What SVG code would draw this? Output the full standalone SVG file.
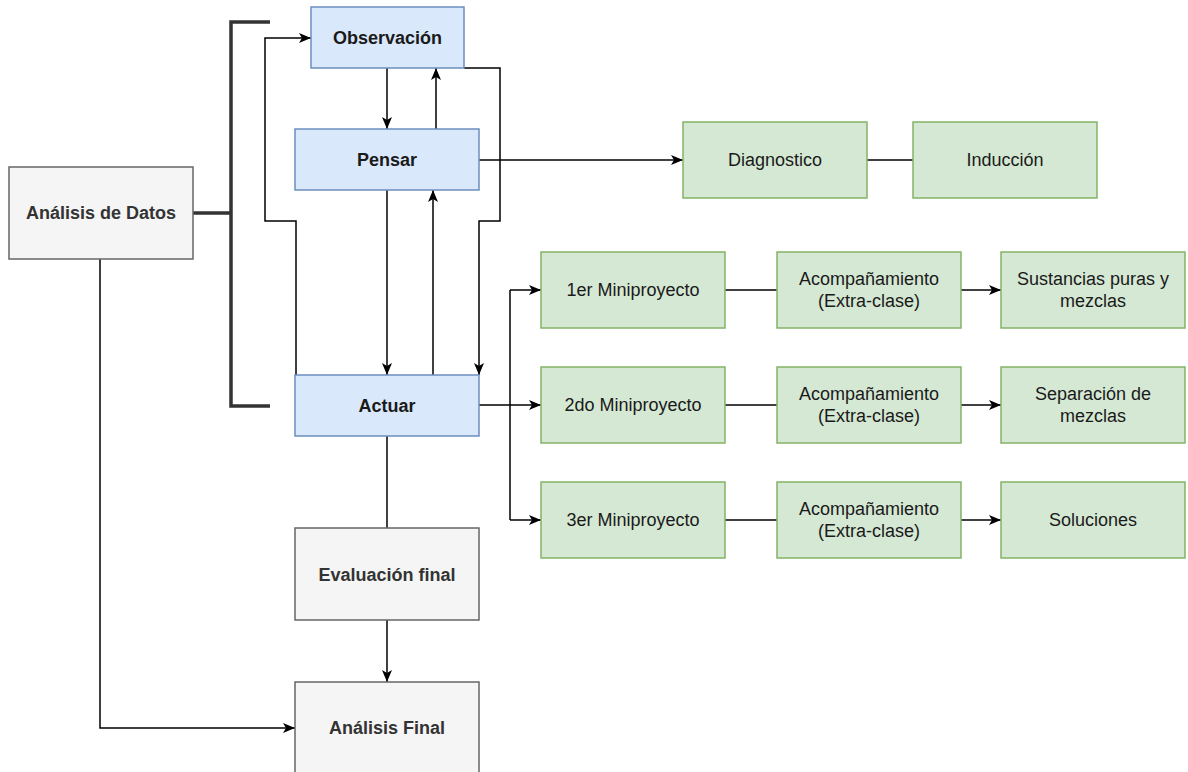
<svg xmlns="http://www.w3.org/2000/svg" width="1188" height="772" viewBox="0 0 1188 772">
<style>
.blue rect{fill:#dae8fc;stroke:#6c8ebf;stroke-width:1.5}
.green rect{fill:#d5e8d4;stroke:#82b366;stroke-width:1.5}
.grey rect{fill:#f5f5f5;stroke:#666666;stroke-width:1.5}
text{font-family:"Liberation Sans",Arial,sans-serif;font-size:18px;text-anchor:middle}
.blue text{font-weight:bold;fill:#1a1a1a}
.grey text{font-weight:bold;fill:#333333}
.green text{fill:#1a1a1a}
.c path{fill:none;stroke:#000;stroke-width:1.5}
.c path.a{marker-end:url(#arr)}
.c path.br{stroke:#333;stroke-width:3.5}
</style>
<defs>
<marker id="arr" markerUnits="userSpaceOnUse" viewBox="0 0 12 10" refX="12" refY="5" markerWidth="12" markerHeight="10" orient="auto">
<path d="M0,0 L12,5 L0,10 L3,5 Z" fill="#000"/>
</marker>
</defs>
<rect width="1188" height="772" fill="#fff"/>
<g class="c" id="connectors">
<path class="br" d="M193,213 H231"/>
<path class="br" d="M270,22 H231 V406 H270"/>
<path class="a" d="M296,375 V221 H265 V38 H311"/>
<path class="a" d="M387,68 V129"/>
<path class="a" d="M436,129 V68"/>
<path class="a" d="M464,68 H500 V221 H479 V375"/>
<path class="a" d="M387,190 V375"/>
<path class="a" d="M433,375 V190"/>
<path class="a" d="M479,160 H683"/>
<path d="M867,160 H913"/>
<path d="M479,405 H510 M510,290 V520"/>
<path class="a" d="M510,290 H541"/>
<path class="a" d="M510,405 H541"/>
<path class="a" d="M510,520 H541"/>
<path d="M725,290 H777"/>
<path d="M725,405 H777"/>
<path d="M725,520 H777"/>
<path class="a" d="M961,290 H1001"/>
<path class="a" d="M961,405 H1001"/>
<path class="a" d="M961,520 H1001"/>
<path d="M387,436 V528"/>
<path class="a" d="M387,620 V682"/>
<path class="a" d="M100,259 V728 H295"/>
</g>
<g id="analisis-datos" class="grey"><rect x="9" y="167" width="184" height="92"/><text x="101" y="219">Análisis de Datos</text></g>
<g id="observacion" class="blue"><rect x="311" y="7" width="153" height="61"/><text x="387.5" y="44">Observación</text></g>
<g id="pensar" class="blue"><rect x="295" y="129" width="184" height="61"/><text x="387" y="166">Pensar</text></g>
<g id="actuar" class="blue"><rect x="295" y="375" width="184" height="61"/><text x="387" y="412">Actuar</text></g>
<g id="evaluacion" class="grey"><rect x="295" y="528" width="184" height="92"/><text x="387" y="581">Evaluación final</text></g>
<g id="analisis-final" class="grey"><rect x="295" y="682" width="184" height="92"/><text x="387" y="734">Análisis Final</text></g>
<g id="diagnostico" class="green"><rect x="683" y="122" width="184" height="76"/><text x="775" y="166">Diagnostico</text></g>
<g id="induccion" class="green"><rect x="913" y="122" width="184" height="76"/><text x="1005" y="166">Inducción</text></g>
<g id="mini1" class="green"><rect x="541" y="252" width="184" height="76"/><text x="633" y="296">1er Miniproyecto</text></g>
<g id="mini2" class="green"><rect x="541" y="367" width="184" height="76"/><text x="633" y="411">2do Miniproyecto</text></g>
<g id="mini3" class="green"><rect x="541" y="482" width="184" height="76"/><text x="633" y="526">3er Miniproyecto</text></g>
<g id="acomp1" class="green"><rect x="777" y="252" width="184" height="76"/><text x="869" y="285">Acompañamiento</text><text x="869" y="307">(Extra-clase)</text></g>
<g id="acomp2" class="green"><rect x="777" y="367" width="184" height="76"/><text x="869" y="400">Acompañamiento</text><text x="869" y="422">(Extra-clase)</text></g>
<g id="acomp3" class="green"><rect x="777" y="482" width="184" height="76"/><text x="869" y="515">Acompañamiento</text><text x="869" y="537">(Extra-clase)</text></g>
<g id="sustancias" class="green"><rect x="1001" y="252" width="184" height="76"/><text x="1093" y="285">Sustancias puras y</text><text x="1093" y="307">mezclas</text></g>
<g id="separacion" class="green"><rect x="1001" y="367" width="184" height="76"/><text x="1093" y="400">Separación de</text><text x="1093" y="422">mezclas</text></g>
<g id="soluciones" class="green"><rect x="1001" y="482" width="184" height="76"/><text x="1093" y="526">Soluciones</text></g>
</svg>
